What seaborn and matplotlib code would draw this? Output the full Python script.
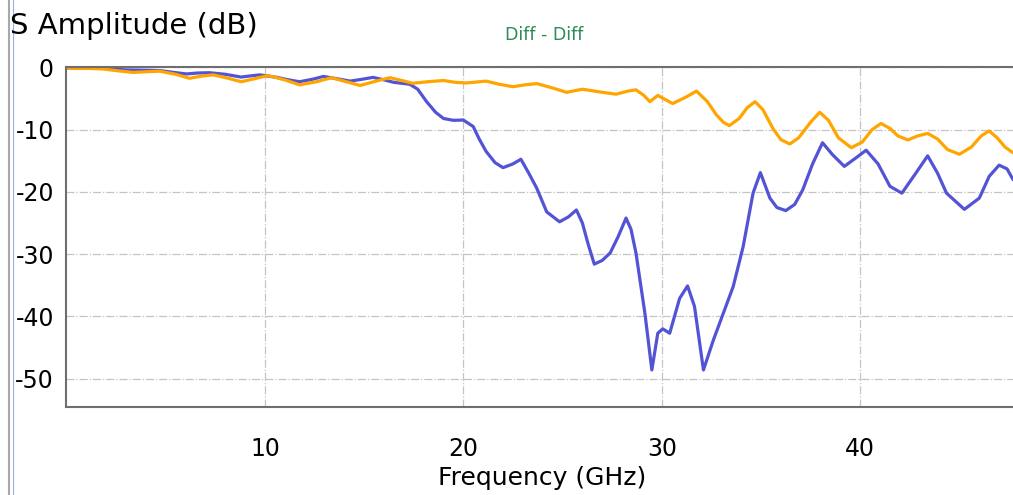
import matplotlib
matplotlib.use("Agg")
import matplotlib.pyplot as plt
import seaborn as sns
import pandas as pd
from matplotlib.lines import Line2D

# values (GHz, dB)
freq_orange = [0.0, 1.0, 1.85, 2.6, 3.35, 4.0, 4.7, 5.5, 6.2, 6.8, 7.4, 8.1, 8.8, 9.5, 10.15,
               11.0, 11.75, 12.6, 13.35, 14.1, 14.8, 15.6, 16.3, 16.9, 17.45, 18.2, 19.0, 19.6,
               20.15, 21.15, 21.8, 22.5, 23.1, 23.7, 24.5, 25.2, 26.0, 27.0, 27.7, 28.3, 28.7,
               29.1, 29.4, 29.8, 30.2, 30.55, 31.2, 31.75, 32.3, 32.75, 33.1, 33.4, 33.9, 34.3,
               34.7, 35.1, 35.6, 36.0, 36.45, 36.9, 37.5, 37.96, 38.4, 38.9, 39.55, 40.1, 40.6,
               41.05, 41.5, 41.9, 42.4, 42.9, 43.4, 43.9, 44.4, 45.0, 45.6, 46.1, 46.5, 46.9,
               47.3, 47.7]
db_orange = [-0.15, -0.15, -0.25, -0.55, -0.8, -0.7, -0.6, -1.1, -1.75, -1.4, -1.2, -1.7, -2.3,
             -1.8, -1.3, -2.0, -2.8, -2.3, -1.65, -2.3, -2.9, -2.2, -1.65, -2.1, -2.55, -2.3,
             -2.1, -2.4, -2.5, -2.2, -2.7, -3.1, -2.8, -2.6, -3.3, -4.0, -3.5, -4.0, -4.3, -3.8,
             -3.6, -4.5, -5.5, -4.5, -5.2, -5.8, -4.8, -3.8, -5.5, -7.6, -8.8, -9.35, -8.2, -6.5,
             -5.5, -6.8, -9.8, -11.6, -12.3, -11.3, -8.8, -7.2, -8.5, -11.3, -12.9, -12.0, -10.0,
             -9.0, -9.8, -11.0, -11.65, -11.0, -10.6, -11.5, -13.2, -13.95, -12.8, -11.0, -10.2,
             -11.3, -12.8, -13.7]

freq_blue = [0.0, 1.0, 1.85, 3.0, 4.0, 4.7, 5.4, 6.05, 6.6, 7.2, 8.0, 8.8, 9.3, 9.75, 10.6,
             11.2, 11.75, 12.4, 12.95, 13.6, 14.3, 14.9, 15.45, 16.0, 16.5, 17.3, 17.7, 18.15,
             18.6, 19.0, 19.5, 20.0, 20.5, 20.8, 21.15, 21.6, 22.0, 22.5, 22.9, 23.3, 23.7,
             24.2, 24.85, 25.3, 25.7, 26.0, 26.3, 26.6, 27.0, 27.4, 27.8, 28.2, 28.45, 28.7,
             29.15, 29.5, 29.8, 30.05, 30.4, 30.9, 31.3, 31.65, 32.1, 32.6, 33.1, 33.6, 34.1,
             34.6, 34.97, 35.45, 35.8, 36.25, 36.7, 37.1, 37.6, 38.1, 38.6, 39.2, 39.8, 40.3,
             40.9, 41.5, 42.1, 42.8, 43.4, 43.9, 44.35, 45.25, 46.0, 46.5, 47.0, 47.4, 47.7]
db_blue = [-0.15, -0.15, -0.15, -0.4, -0.45, -0.5, -0.8, -1.05, -0.9, -0.85, -1.1, -1.55, -1.35,
           -1.2, -1.6, -2.0, -2.3, -1.9, -1.45, -1.8, -2.2, -1.9, -1.6, -2.0, -2.4, -2.7, -3.5,
           -5.5, -7.2, -8.2, -8.5, -8.45, -9.5, -11.5, -13.5, -15.3, -16.1, -15.5, -14.75, -17.0,
           -19.4, -23.2, -24.8, -24.0, -22.9, -25.0, -28.5, -31.6, -31.0, -29.8, -27.2, -24.2,
           -26.0, -29.8, -39.5, -48.6, -42.7, -42.0, -42.7, -37.1, -35.1, -38.4, -48.6, -43.8,
           -39.5, -35.2, -28.8, -20.2, -16.9, -21.0, -22.5, -23.0, -22.0, -19.7, -15.5, -12.1,
           -14.0, -15.9, -14.5, -13.3, -15.5, -19.1, -20.2, -17.0, -14.2, -17.0, -20.2, -22.8,
           -21.0, -17.5, -15.7, -16.3, -18.0]

y_ticks = [0, -10, -20, -30, -40, -50]
y_labels = ["0", "-10", "-20", "-30", "-40", "-50"]
x_ticks = [10, 20, 30, 40]
x_labels = ["10", "20", "30", "40"]

sns.set_style("white")
plt.rcParams['font.family'] = ['DejaVu Sans']
plt.rcParams['text.color'] = 'black'
plt.rcParams['axes.labelcolor'] = 'black'

fig = plt.figure(figsize=(10.13, 4.95), dpi=100)
ax = fig.add_axes([0.0656, 0.1784, 0.9344, 0.6854])

sns.lineplot(x=freq_blue, y=db_blue, ax=ax, color="#5353d6", lw=2.3,
             estimator=None, sort=False)
sns.lineplot(x=freq_orange, y=db_orange, ax=ax, color="#ffa500", lw=2.3,
             estimator=None, sort=False)

ax.set_xlim(0, 47.7)
ax.set_ylim(-54.5, 0)
ax.set_xticks(x_ticks)
ax.set_xticklabels(x_labels)
ax.set_yticks(y_ticks)
ax.set_yticklabels(y_labels)

ax.grid(True, color="#c4c4c4", linestyle="-.", lw=0.9)
ax.set_axisbelow(True)
for s in ["top", "left", "bottom"]:
    ax.spines[s].set_color("#6e6e6e")
    ax.spines[s].set_linewidth(1.5)
ax.spines["right"].set_visible(False)

ax.tick_params(axis="both", direction="out", length=6, width=1, color="black",
               labelsize=17, labelcolor="black")
ax.tick_params(axis="x", pad=16)
ax.tick_params(axis="y", pad=3)

ax.set_xlabel("Frequency (GHz)", fontsize=18)
ax.xaxis.set_label_coords(0.503, -0.21)
ax.xaxis.label.set_va("center")
ax.set_ylabel("")

fig.text(10 / 1013, 1 - 26 / 495, "S Amplitude (dB)", fontsize=21, ha="left", va="center")
fig.text(544 / 1013, 1 - 35 / 495, "Diff - Diff", fontsize=12.5, color="#2e8b57",
         ha="center", va="center")

# window border lines on the left
fig.add_artist(Line2D([9 / 1013, 9 / 1013], [0, 1], transform=fig.transFigure,
                      color="#a8a8a8", lw=1.5))
fig.add_artist(Line2D([12.5 / 1013, 12.5 / 1013], [0, 1], transform=fig.transFigure,
                      color="#8fb4e3", lw=0.8))

fig.savefig("out.png", dpi=100)
